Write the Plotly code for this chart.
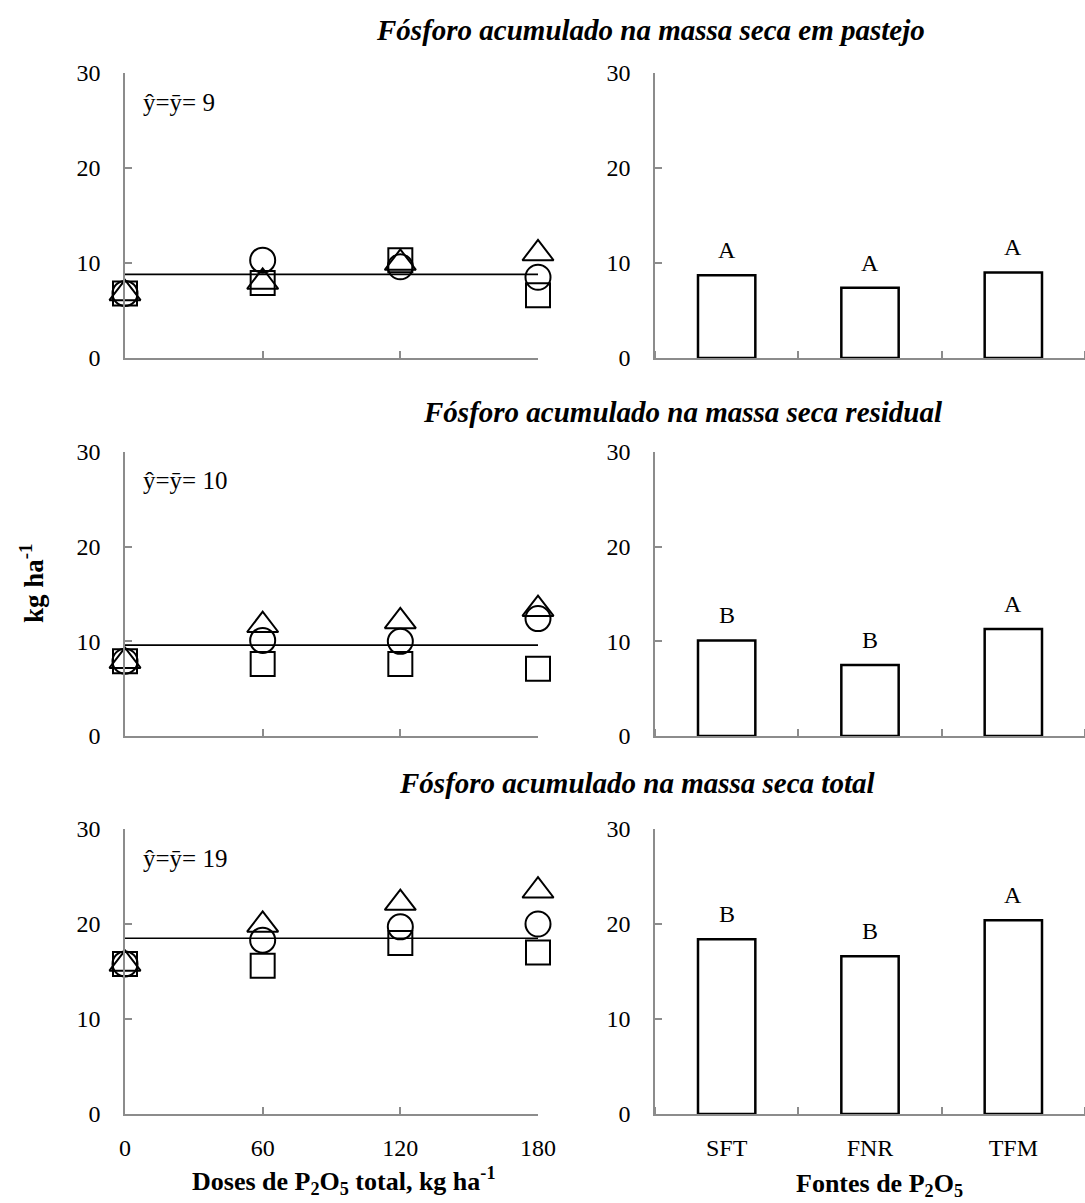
import plotly.graph_objects as go

# ---------------- data ----------------
doses = [0, 60, 120, 180]
sources = ["SFT", "FNR", "TFM"]

# Panel 1: Fósforo acumulado na massa seca em pastejo
p1_circle = [6.8, 10.3, 9.6, 8.5]
p1_square = [6.8, 7.9, 10.3, 6.6]
p1_triangle = [6.8, 8.0, 10.0, 11.0]
p1_mean = 8.8
p1_bars = [8.7, 7.4, 9.0]
p1_letters = ["A", "A", "A"]
p1_eq = "ŷ=ȳ= 9"

# Panel 2: residual
p2_circle = [7.9, 10.1, 10.0, 12.4]
p2_square = [7.9, 7.6, 7.6, 7.1]
p2_triangle = [7.9, 11.7, 12.1, 13.4]
p2_mean = 9.6
p2_bars = [10.1, 7.5, 11.3]
p2_letters = ["B", "B", "A"]
p2_eq = "ŷ=ȳ= 10"

# Panel 3: total
p3_circle = [15.8, 18.3, 19.7, 20.0]
p3_square = [15.8, 15.6, 18.0, 17.0]
p3_triangle = [15.8, 19.9, 22.2, 23.5]
p3_mean = 18.5
p3_bars = [18.4, 16.6, 20.4]
p3_letters = ["B", "B", "A"]
p3_eq = "ŷ=ȳ= 19"

titles = ["Fósforo acumulado na massa seca em pastejo",
          "Fósforo acumulado na massa seca residual",
          "Fósforo acumulado na massa seca total"]

yticks = [0, 10, 20, 30]

# ---------------- layout geometry ----------------
W, H = 1085, 1203
FONT = "Liberation Serif, Times New Roman, serif"
AX = "#8c8c8c"
TICK_SIZE = 24

def py(v):
    return 1 - v / H

rows = [(73, 358), (452, 736), (829, 1114)]
left_dom = [125 / W, 538 / W]
right_dom = [655 / W, 1.0]

panels = [
    (p1_circle, p1_square, p1_triangle, p1_mean, p1_bars, p1_letters, p1_eq),
    (p2_circle, p2_square, p2_triangle, p2_mean, p2_bars, p2_letters, p2_eq),
    (p3_circle, p3_square, p3_triangle, p3_mean, p3_bars, p3_letters, p3_eq),
]

fig = go.Figure()
layout = dict(
    width=W, height=H,
    margin=dict(l=0, r=0, t=0, b=0, autoexpand=False),
    paper_bgcolor="white", plot_bgcolor="white",
    showlegend=False,
    font=dict(family=FONT, size=TICK_SIZE, color="black"),
)
annotations = []

mk_line = dict(color="black", width=2)
tfont = dict(family=FONT, size=TICK_SIZE, color="black")

for i, (circ, sq, tri, mean, bars, letters, eq) in enumerate(panels):
    top, bot = rows[i]
    ydom = [py(bot), py(top)]
    li = 2 * i + 1
    ri = 2 * i + 2
    lx = "x" if li == 1 else f"x{li}"
    ly = "y" if li == 1 else f"y{li}"
    rx = f"x{ri}"
    ry = f"y{ri}"
    bottom = (i == 2)

    # left scatter panel
    fig.add_trace(go.Scatter(x=doses, y=sq, mode="markers", xaxis=lx, yaxis=ly,
                             name="FNR", cliponaxis=False,
                             marker=dict(symbol="square-open", size=24, line=mk_line, color="black")))
    fig.add_trace(go.Scatter(x=doses, y=circ, mode="markers", xaxis=lx, yaxis=ly,
                             name="SFT", cliponaxis=False,
                             marker=dict(symbol="circle-open", size=25, line=mk_line, color="black")))
    fig.add_trace(go.Scatter(x=doses, y=tri, mode="markers", xaxis=lx, yaxis=ly,
                             name="TFM", cliponaxis=False,
                             marker=dict(symbol="triangle-up-open", size=27, line=mk_line, color="black")))
    fig.add_trace(go.Scatter(x=[doses[0], doses[-1]], y=[mean, mean], mode="lines",
                             xaxis=lx, yaxis=ly, cliponaxis=False,
                             line=dict(color="black", width=1.6)))

    # right bar panel
    fig.add_trace(go.Bar(x=[0, 1, 2], y=bars, xaxis=rx, yaxis=ry, width=0.4,
                         marker=dict(color="white", line=dict(color="black", width=2.5))))
    for k in range(3):
        annotations.append(dict(xref=rx, yref=ry, x=k, y=bars[k], text=letters[k],
                                xanchor="center", yanchor="bottom", yshift=10,
                                showarrow=False, font=tfont))

    xl_key = "xaxis" if li == 1 else f"xaxis{li}"
    yl_key = "yaxis" if li == 1 else f"yaxis{li}"
    layout[xl_key] = dict(
        domain=left_dom, anchor=ly, range=[0, 180],
        tickmode="array", tickvals=doses, ticktext=[str(d) for d in doses],
        showticklabels=bottom, ticks="inside", ticklen=7, tickcolor=AX, tickwidth=1.5,
        showline=True, linecolor=AX, linewidth=1.5, showgrid=False, zeroline=False,
        ticklabelstandoff=11, tickfont=tfont,
    )
    layout[yl_key] = dict(
        domain=ydom, anchor=lx, range=[0, 30],
        tickmode="array", tickvals=yticks,
        ticks="inside", ticklen=7, tickcolor=AX, tickwidth=1.5,
        showline=True, linecolor=AX, linewidth=1.5, showgrid=False, zeroline=False,
        ticklabelstandoff=18, tickfont=tfont,
    )
    layout[f"xaxis{ri}"] = dict(
        domain=right_dom, anchor=ry, range=[-0.5, 2.5],
        tickmode="array", tickvals=[0, 1, 2], ticktext=sources,
        showticklabels=bottom, ticks="",
        minor=dict(tickmode="linear", tick0=0.5, dtick=1, ticks="inside",
                   ticklen=7, tickcolor=AX, tickwidth=1.5, showgrid=False),
        showline=True, linecolor=AX, linewidth=1.5, showgrid=False, zeroline=False,
        ticklabelstandoff=11, tickfont=tfont,
    )
    layout[f"yaxis{ri}"] = dict(
        domain=ydom, anchor=rx, range=[0, 30],
        tickmode="array", tickvals=yticks,
        ticks="inside", ticklen=7, tickcolor=AX, tickwidth=1.5,
        showline=True, linecolor=AX, linewidth=1.5, showgrid=False, zeroline=False,
        ticklabelstandoff=18, tickfont=tfont,
    )

    # equation text
    annotations.append(dict(xref="paper", yref="paper", x=141 / W, y=py(top + 29),
                            xanchor="left", yanchor="middle", showarrow=False,
                            text=eq, font=dict(family=FONT, size=25, color="black")))

# panel titles
title_pos = [(650, 30), (683, 412), (637, 783)]
for t, (tx, ty) in zip(titles, title_pos):
    annotations.append(dict(xref="paper", yref="paper", x=tx / W, y=py(ty),
                            xanchor="center", yanchor="middle", showarrow=False,
                            text=f"<b><i>{t}</i></b>",
                            font=dict(family=FONT, size=29, color="black")))

# y-axis title
annotations.append(dict(xref="paper", yref="paper", x=32 / W, y=py(583),
                        xanchor="center", yanchor="middle", showarrow=False, textangle=-90,
                        text="<b>kg ha<sup>-1</sup></b>",
                        font=dict(family=FONT, size=27, color="black")))
# x-axis titles
annotations.append(dict(xref="paper", yref="paper", x=343 / W, y=py(1181),
                        xanchor="center", yanchor="middle", showarrow=False,
                        text="<b>Doses de P<sub>2</sub>O<sub>5</sub> total, kg ha<sup>-1</sup></b>",
                        font=dict(family=FONT, size=26, color="black")))
annotations.append(dict(xref="paper", yref="paper", x=879 / W, y=py(1185),
                        xanchor="center", yanchor="middle", showarrow=False,
                        text="<b>Fontes de P<sub>2</sub>O<sub>5</sub></b>",
                        font=dict(family=FONT, size=26, color="black")))

layout["annotations"] = annotations
fig.update_layout(**layout)
fig.write_html("out.html")
